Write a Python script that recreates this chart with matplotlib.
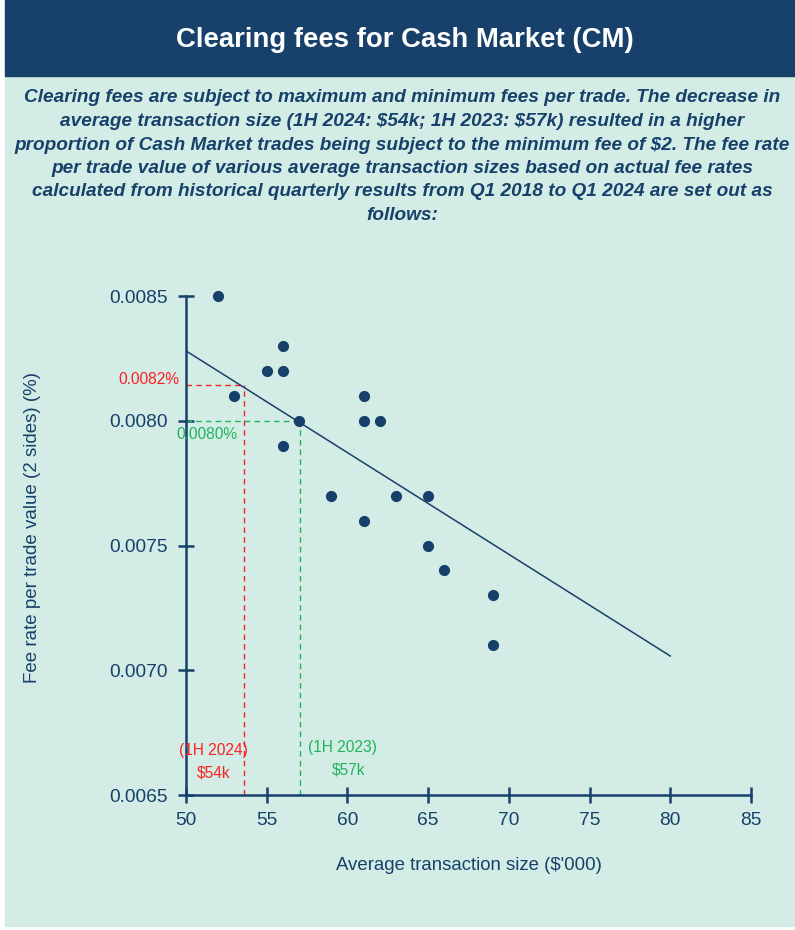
import matplotlib
matplotlib.use("Agg")
import matplotlib.pyplot as plt
from matplotlib.patches import Rectangle

# data
avg_size = [52, 53, 55, 56, 56, 56, 57, 59, 61, 61, 62, 61, 63, 65, 65, 66, 69, 69]
fee_rate = [0.0085, 0.0081, 0.0082, 0.0083, 0.0082, 0.0079, 0.0080, 0.0077, 0.0081,
            0.0080, 0.0080, 0.0076, 0.0077, 0.0077, 0.0075, 0.0074, 0.0073, 0.0071]
trend_x = [50, 80]
trend_y = [0.00828, 0.007057]
ref_2024 = (53.6, 0.008143)
ref_2023 = (57.05, 0.0080)
x_ticks = [50, 55, 60, 65, 70, 75, 80, 85]
y_ticks = [0.0065, 0.0070, 0.0075, 0.0080, 0.0085]

NAVY = "#17416a"
MINT = "#d3ece6"
RED = "#ff2020"
GREEN = "#1fb55a"

plt.rcParams["font.family"] = ["Liberation Sans", "DejaVu Sans"]
plt.rcParams["text.parse_math"] = False

fig = plt.figure(figsize=(7.95, 9.3), dpi=100)
fig.patch.set_facecolor("white")
W, H = 795, 930
fig.add_artist(Rectangle((5 / W, 4 / H), 790 / W, (H - 76 - 4) / H,
                         transform=fig.transFigure, color=MINT, zorder=0))
fig.add_artist(Rectangle((5 / W, (H - 76) / H), 790 / W, 76 / H,
                         transform=fig.transFigure, color=NAVY, zorder=0))

fig.text(405 / W, 1 - 40 / H, "Clearing fees for Cash Market (CM)", color="white",
         fontsize=19.8, fontweight="bold", ha="center", va="center")

subtitle = ["Clearing fees are subject to maximum and minimum fees per trade. The decrease in",
            "average transaction size (1H 2024: $54k; 1H 2023: $57k) resulted in a higher",
            "proportion of Cash Market trades being subject to the minimum fee of $2. The fee rate",
            "per trade value of various average transaction sizes based on actual fee rates",
            "calculated from historical quarterly results from Q1 2018 to Q1 2024 are set out as",
            "follows:"]
for i, line in enumerate(subtitle):
    fig.text(402 / W, 1 - (98 + i * 23.5) / H, line, color=NAVY, fontsize=13.7,
             fontweight="bold", fontstyle="italic", ha="center", va="center")

ax = fig.add_axes([186 / W, 135 / H, 565 / W, 499 / H])
ax.set_facecolor("none")
ax.set_xlim(50, 85)
ax.set_ylim(0.0065, 0.0085)

ax.scatter(avg_size, fee_rate, s=65, color=NAVY, zorder=4, clip_on=False, linewidths=0)
ax.plot(trend_x, trend_y, color=NAVY, lw=1.1, zorder=3)

# reference lines
ax.plot([50, ref_2024[0]], [ref_2024[1]] * 2, color=RED, lw=1, ls=(0, (4, 3)), zorder=2)
ax.plot([ref_2024[0]] * 2, [0.0065, ref_2024[1]], color=RED, lw=1, ls=(0, (4, 3)), zorder=2)
ax.plot([50, ref_2023[0]], [ref_2023[1]] * 2, color=GREEN, lw=1, ls=(0, (4, 3)), zorder=2)
ax.plot([ref_2023[0]] * 2, [0.0065, ref_2023[1]], color=GREEN, lw=1, ls=(0, (4, 3)), zorder=2)

ax.text(49.6, 0.008167, "0.0082%", color=RED, fontsize=11.2, ha="right", va="center")
ax.text(49.4, 0.007945, "0.0080%", color=GREEN, fontsize=11.2, ha="left", va="center")
ax.text(51.7, 0.006680, "(1H 2024)", color=RED, fontsize=11.2, ha="center", va="center")
ax.text(51.7, 0.006588, "$54k", color=RED, fontsize=11.2, ha="center", va="center")
ax.text(59.7, 0.006690, "(1H 2023)", color=GREEN, fontsize=11.2, ha="center", va="center")
ax.text(60.1, 0.006600, "$57k", color=GREEN, fontsize=11.2, ha="center", va="center")

for s in ["top", "right"]:
    ax.spines[s].set_visible(False)
for s in ["left", "bottom"]:
    ax.spines[s].set_color(NAVY)
    ax.spines[s].set_linewidth(1.8)

ax.set_xticks(x_ticks)
ax.set_yticks(y_ticks)
ax.set_yticklabels([f"{v:.4f}" for v in y_ticks])
ax.tick_params(axis="both", direction="inout", length=11, width=1.8, color=NAVY,
               labelcolor=NAVY, labelsize=13.8)
ax.tick_params(axis="x", pad=7)
ax.tick_params(axis="y", pad=8)

ax.set_xlabel("Average transaction size ($'000)", color=NAVY, fontsize=13.4, labelpad=20)
ax.set_ylabel("Fee rate per trade value (2 sides) (%)", color=NAVY, fontsize=13.5)
ax.yaxis.set_label_coords(-0.257, 0.537)

fig.savefig("out.png", dpi=100, facecolor=fig.get_facecolor())
